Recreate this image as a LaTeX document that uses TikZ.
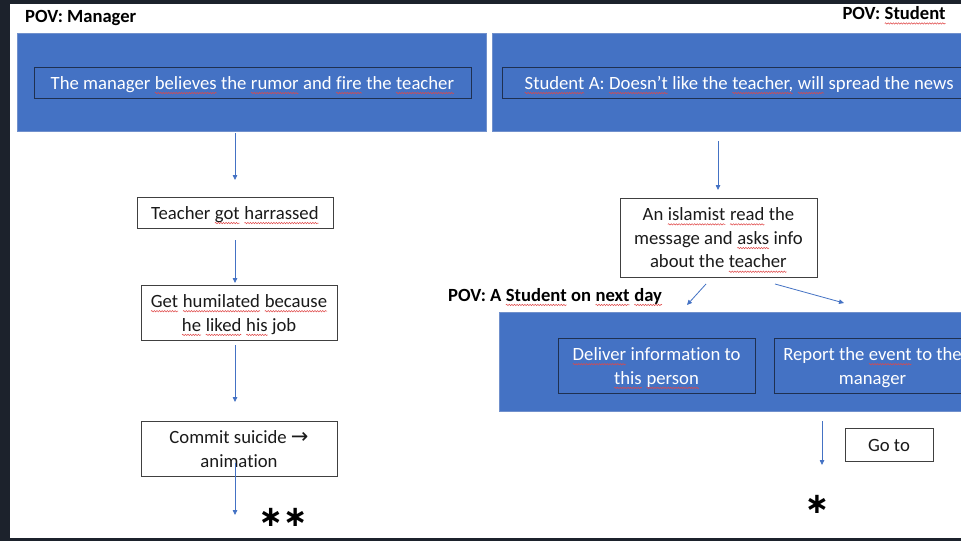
\documentclass[tikz,border=0pt]{standalone}
\usepackage{fontspec}
\setmainfont{Carlito}[Ligatures=NoCommon]
\newfontfamily\symfont{DejaVu Sans}
\usetikzlibrary{arrows.meta,decorations.pathmorphing}
\definecolor{bg}{HTML}{1C222C}
\definecolor{ppt}{HTML}{4472C4}
\definecolor{pptline}{HTML}{7090CC}
\definecolor{navy}{HTML}{1F3050}
\definecolor{boxline}{HTML}{404040}
\definecolor{txt}{HTML}{1A1A1A}
\definecolor{sqred}{HTML}{E04848}
\tikzset{sqword/.style={inner sep=0pt,outer sep=0pt,minimum width=0pt,minimum height=0pt,draw=none,fill=none,shape=rectangle,anchor=center}}
\newcommand\sq[1]{\tikz[baseline=(sqw.base)]{\node[sqword] (sqw) {#1};\draw[sqred,line width=0.5pt,decorate,decoration={snake,amplitude=0.7pt,segment length=2.6pt}] ([yshift=-3.8pt]sqw.base west) -- ([yshift=-3.8pt]sqw.base east);}}
\newcommand\fl{\rule{0pt}{18.5pt}}
\newcommand\lastl{\rule[-5pt]{0pt}{5pt}}
\begin{document}
\begin{tikzpicture}[x=1pt,y=-1pt,
  txtfont/.style={font=\fontsize{18.7}{23.7}\selectfont},
  wbox/.style={draw=boxline, line width=0.9pt, fill=white, txtfont, text=txt, align=center, inner sep=0pt},
  bbox/.style={draw=navy, line width=0.9pt, txtfont, text=white, align=center, inner sep=0pt},
  outer/.style={draw=pptline, line width=0.6pt, fill=ppt, inner sep=0pt},
  hdr/.style={font=\bfseries\fontsize{18.6}{23}\selectfont, text=black, inner sep=0pt},
  star/.style={font=\symfont\bfseries\fontsize{29}{29}\selectfont, text=black, inner sep=0pt},
  arr/.style={draw=ppt, line width=0.8pt, -{Triangle[length=5pt,width=4.5pt]}}
]
\useasboundingbox (0,0) rectangle (961,541);
\clip (0,0) rectangle (961,541);
\fill[bg] (0,0) rectangle (961,541);
\fill[white] (10,4) rectangle (961,538);

% headers
\node[hdr, anchor=west] (povM) at (25,17.5) {POV: Manager};
\node[hdr, anchor=east] (povS) at (946,15.5) {POV: \sq{Student}};
\node[hdr, anchor=west] (povN) at (448,297) {POV: A \sq{Student} on \sq{next} \sq{day}};

% outer blue boxes
\node[outer, minimum width=469pt, minimum height=98pt] (outL) at (251.5,82) {};
\node[outer, minimum width=498pt, minimum height=98pt] (outR) at (741,82) {};
\node[outer, minimum width=491pt, minimum height=99pt] (outB) at (744.5,361.5) {};

% inner blue text boxes
\node[bbox, minimum width=437pt, minimum height=31pt] (mgr) at (252.5,82.5) {\fl The manager \sq{believes} the \sq{rumor} and \sq{fire} the \sq{teacher}\lastl};
\node[bbox, minimum width=474pt, minimum height=31pt] (stu) at (739,82.5) {\fl\sq{Student} A: \sq{Doesn’t} like the \sq{teacher,} \sq{will} spread the news\lastl};
\node[bbox, minimum width=197pt, minimum height=55pt] (deliver) at (656.5,365.5) {\fl\sq{Deliver} information to\\\sq{this} \sq{person}\lastl};
\node[bbox, minimum width=197pt, minimum height=55pt] (report) at (872.5,365.5) {\fl Report the \sq{event} to the\\manager\lastl};

% white boxes
\node[wbox, minimum width=196pt, minimum height=31pt] (harass) at (235,212.5) {\fl Teacher \sq{got} \sq{harrassed}\lastl};
\node[wbox, minimum width=196pt, minimum height=55pt] (humil) at (239,312.5) {\fl\sq{Get} \sq{humilated} \sq{because}\\\sq{he} \sq{liked} \sq{his} job\lastl};
\node[wbox, minimum width=196pt, minimum height=55pt] (suicide) at (239,448.5) {\fl Commit suicide {\symfont\fontsize{21}{23.7}\selectfont →}\\animation\lastl};
\node[wbox, minimum width=197pt, minimum height=79pt] (islam) at (718.5,237.5) {\fl An \sq{islamist} \sq{read} the\\message and \sq{asks} info\\about the \sq{teacher}\lastl};
\node[wbox, minimum width=88pt, minimum height=33pt] (goto) at (889,444.5) {\fl Go to\lastl};

% stars
\node[star, anchor=base] (stars2) at (283,526) {∗∗};
\node[star, anchor=base] (star1) at (817,513) {∗};

% connectors
\coordinate (c1) at (235,133);
\coordinate (c2) at (235,180);
\draw[arr] (c1) -- (c2);
\coordinate (c3) at (235,240);
\coordinate (c4) at (235,283);
\draw[arr] (c3) -- (c4);
\coordinate (c5) at (235,345);
\coordinate (c6) at (235,402);
\draw[arr] (c5) -- (c6);
\coordinate (c7) at (235,463);
\coordinate (c8) at (235,515);
\draw[arr] (c7) -- (c8);
\coordinate (d1) at (718,141);
\coordinate (d2) at (718,190);
\draw[arr] (d1) -- (d2);
\coordinate (d3) at (706,284);
\coordinate (d4) at (687,305);
\draw[arr] (d3) -- (d4);
\coordinate (d5) at (775,284);
\coordinate (d6) at (844,303);
\draw[arr] (d5) -- (d6);
\coordinate (d7) at (822,421);
\coordinate (d8) at (822,465);
\draw[arr] (d7) -- (d8);
\end{tikzpicture}
\end{document}
